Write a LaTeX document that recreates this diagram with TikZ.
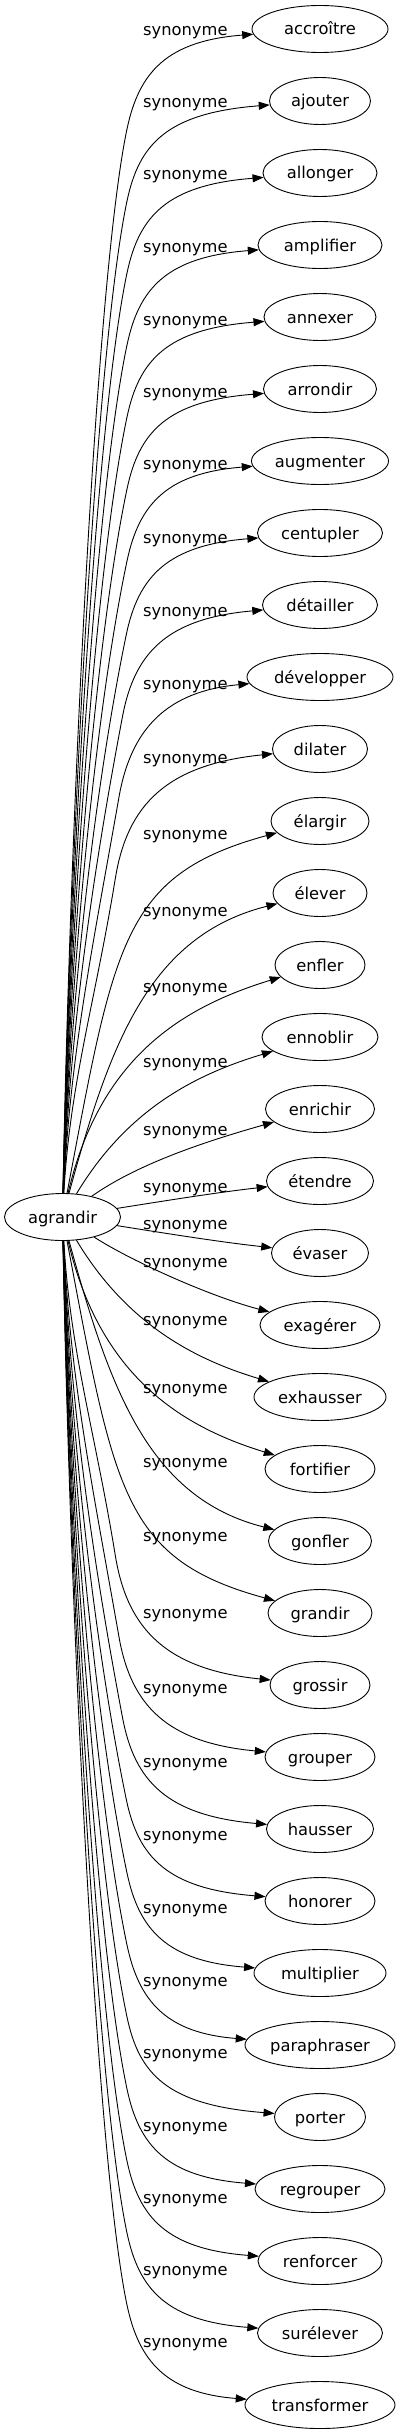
\documentclass[tikz,border=0pt]{standalone}
\usepackage{fontspec}
\setmainfont{DejaVu Sans}
\usetikzlibrary{shapes.geometric, arrows.meta}

\newcommand{\wordfont}{\fontsize{16.3}{19}\selectfont}
\tikzset{
	word/.style={draw, ellipse, line width=0.9pt, inner sep=0pt, minimum height=47pt, text height=12pt, text depth=0pt, font=\wordfont},
	rel/.style={anchor=base west, inner sep=0pt, font=\wordfont},
	link/.style={->, line width=0.9pt},
}

\begin{document}
\begin{tikzpicture}[x=1pt, y=-1pt, >={Triangle[length=11pt,width=8pt]}]
			\useasboundingbox (0,0) rectangle (400,2435);
			
			\node[word, minimum width=116pt] (agrandir) at (62.5,1217) {agrandir};
			
			\foreach \nm/\txt/\wid/\row/\lb in {accroitre/accroître/136/0/36, ajouter/ajouter/101/1/108, allonger/allonger/114/2/180, amplifier/amplifier/124/3/252, annexer/annexer/112/4/325, arrondir/arrondir/113/5/397, augmenter/augmenter/137/6/469, centupler/centupler/125/7/543, detailler/détailler/115/8/616, developper/développer/146/9/689, dilater/dilater/95/10/763, elargir/élargir/98/11/839, elever/élever/94/12/916, enfler/enfler/90/13/992, ennoblir/ennoblir/116/14/1067, enrichir/enrichir/109/15/1135, etendre/étendre/107/16/1192, evaser/évaser/97/17/1229, exagerer/exagérer/120/18/1267, exhausser/exhausser/132/19/1325, fortifier/fortifier/110/20/1393, gonfler/gonfler/103/21/1467, grandir/grandir/104/22/1541, grossir/grossir/100/23/1618, grouper/grouper/110/24/1693, hausser/hausser/107/25/1767, honorer/honorer/110/26/1840, multiplier/multiplier/132/27/1913, paraphraser/paraphraser/150/28/1986, porter/porter/91/29/2058, regrouper/regrouper/130/30/2131, renforcer/renforcer/124/31/2203, surelever/surélever/125/32/2275, transformer/transformer/150/33/2347}{
				\node[word, minimum width=\wid pt] (\nm) at (320, 29+72*\row) {\txt};
				\node[rel] (lab\row) at (143, \lb) {synonyme};
			}
			
			% long edges: up (or down) the bundle, then round the corner
			\foreach \nm/\row in {accroitre/0, ajouter/1, allonger/2, amplifier/3, annexer/4, arrondir/5, augmenter/6, centupler/7, detailler/8, developper/9, dilater/10, grossir/23, grouper/24, hausser/25, honorer/26, multiplier/27, paraphraser/28, porter/29, regrouper/30, renforcer/31, surelever/32, transformer/33}{
				\pgfmathsetmacro{\cy}{29+72*\row}
				\pgfmathsetmacro{\sg}{\cy<1217 ? -1 : 1}
				\pgfmathsetmacro{\dd}{abs(\cy-1217)}
				\pgfmathsetmacro{\sc}{1+0.5*min(1,max(0,(700-\dd)/400))}
				\pgfmathsetmacro{\kx}{127-40*(\sc-1)}
				\pgfmathsetmacro{\ky}{\cy-\sg*100*\sc}
				\pgfmathsetmacro{\dist}{abs(\ky-1217)-24}
				\pgfmathsetmacro{\ll}{min(150,0.4*\dist)}
				\pgfmathsetmacro{\qa}{1217+\sg*(24+0.35*\dist)}
				\pgfmathsetmacro{\nn}{sqrt(144+3249*\sc*\sc)}
				\pgfmathsetmacro{\qbx}{\kx-12*\ll/\nn}
				\pgfmathsetmacro{\qby}{\ky-\sg*57*\sc*\ll/\nn}
				\pgfmathsetmacro{\pax}{\kx+12}
				\pgfmathsetmacro{\pay}{\cy-\sg*43*\sc}
				\pgfmathsetmacro{\pby}{\cy-\sg*12*\sc}
				\draw[link] (agrandir) .. controls (70,\qa) and (\qbx,\qby) .. (\kx,\ky)
					.. controls (\pax,\pay) and (167,\pby) .. (\nm);
			}
			
			\draw[link] (agrandir) .. controls (114.5,943) and (122,875) .. (elargir);
			\draw[link] (agrandir) .. controls (109.6,1045) and (148.5,935.8) .. (elever);
			\draw[link] (agrandir) .. controls (100,1056.5) and (183,1007) .. (enfler);
			\draw[link] (agrandir) .. controls (128,1108) and (197,1074) .. (ennoblir);
			\draw[link] (agrandir) .. controls (140,1162) and (214,1139) .. (enrichir);
			\draw[link] (agrandir) .. controls (170,1200) and (220,1192) .. (etendre);
			\draw[link] (agrandir) .. controls (170,1234) and (220,1242) .. (evaser);
			\draw[link] (agrandir) .. controls (134,1262.5) and (212,1297) .. (exagerer);
			\draw[link] (agrandir) .. controls (128,1326) and (197,1360) .. (exhausser);
			\draw[link] (agrandir) .. controls (100,1377.5) and (183,1427) .. (fortifier);
			\draw[link] (agrandir) .. controls (109.6,1389) and (148.5,1498.2) .. (gonfler);
			\draw[link] (agrandir) .. controls (114.5,1491) and (122,1559) .. (grandir);
		\end{tikzpicture}
\end{document}
